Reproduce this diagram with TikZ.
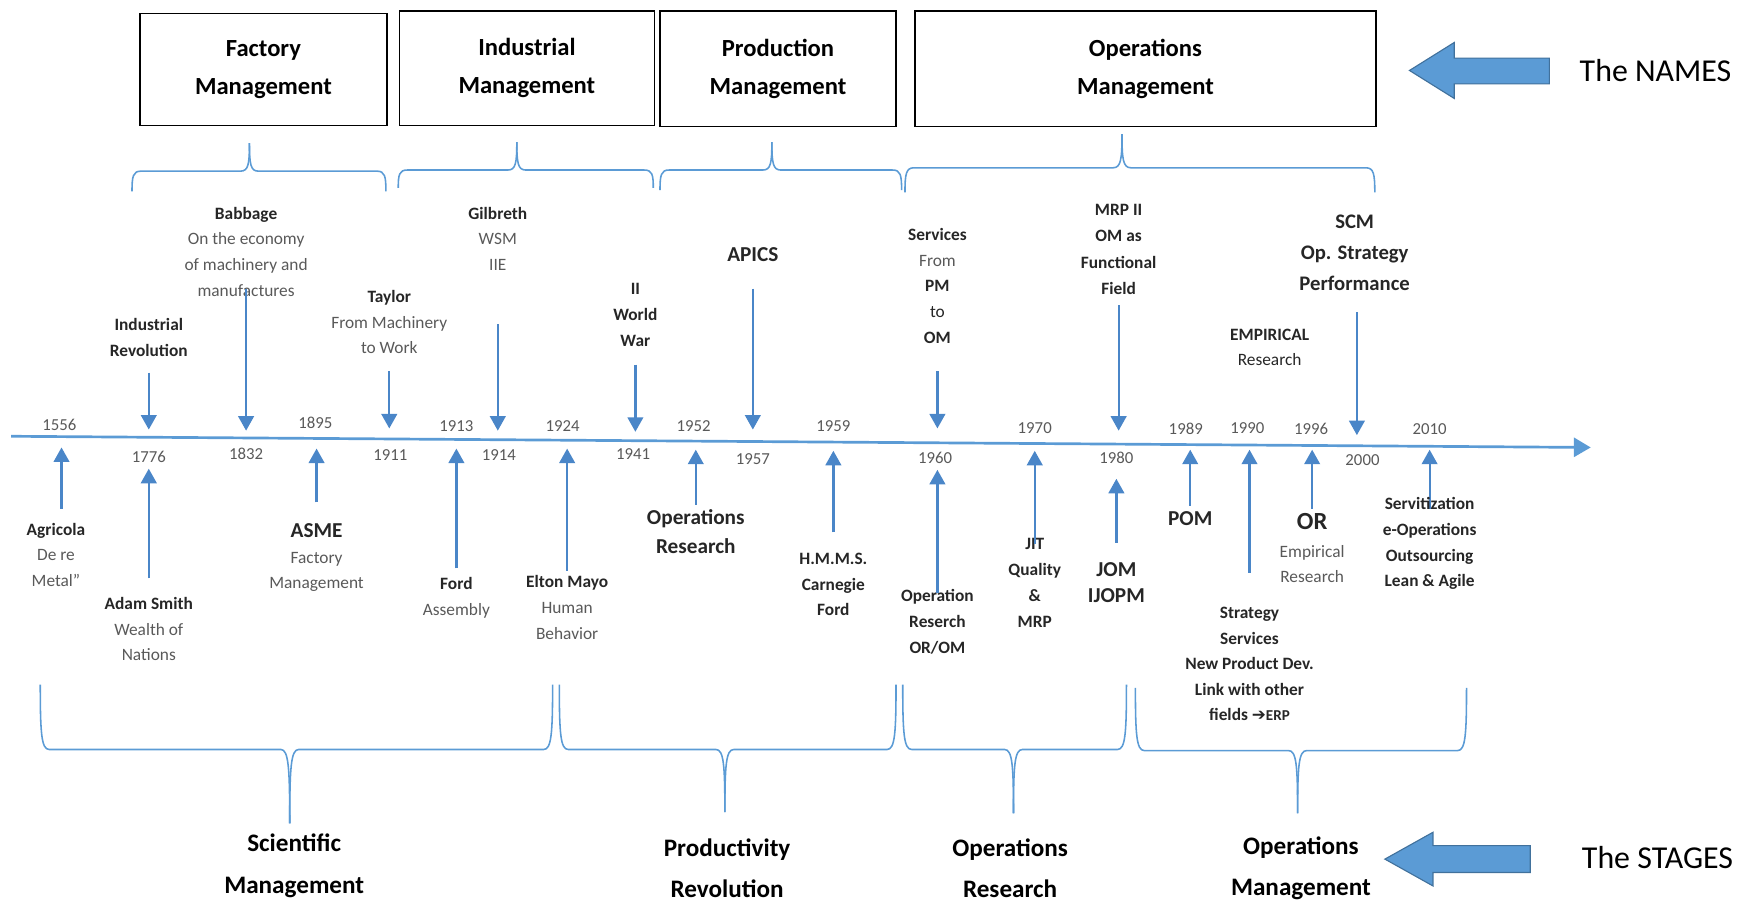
\documentclass[tikz,border=0pt]{standalone}
\usepackage{fontspec}
\setmainfont{Carlito}
\newfontfamily\symfont{DejaVu Sans}
\usetikzlibrary{arrows.meta}

\definecolor{lineblue}{HTML}{5B9BD5}
\definecolor{ptrblue}{HTML}{4A86C8}
\definecolor{edgeblue}{HTML}{41719C}
\definecolor{txtdark}{HTML}{262626}
\definecolor{txtgray}{HTML}{595959}

\newcommand{\soft}[1]{\textcolor{txtgray}{#1}}

% curly brace: x-left, x-tip, x-right, y of bar, y of the two ends, y of the tip
\newcommand{\curly}[6]{%
  \draw[brace] (#1,#5) .. controls (#1,{#4+0.25*(#5-#4)}) and ({#1+1},#4) .. ({#1+8},#4)
     -- ({#2-8},#4) .. controls ({#2-1},#4) and (#2,{#4+0.25*(#6-#4)}) .. (#2,#6);
  \draw[brace] (#2,#6) .. controls (#2,{#4+0.25*(#6-#4)}) and ({#2+1},#4) .. ({#2+8},#4)
     -- ({#3-8},#4) .. controls ({#3-1},#4) and (#3,{#4+0.25*(#5-#4)}) .. (#3,#5);
}

% event pointer: name, x, start y, tip y
\newcommand{\pointer}[4]{%
  \coordinate (#1s) at (#2,#3);
  \coordinate (#1e) at (#2,#4);
  \draw[ptr] (#1s) -- (#1e);
}

\tikzset{
  ptr/.style={draw=ptrblue, line width=2pt, -{Triangle[width=14pt,length=13pt]}},
  axisline/.style={draw=lineblue, line width=2.4pt, -{Triangle[width=17pt,length=15pt]}},
  brace/.style={draw=lineblue, line width=1.4pt},
  blockarrow/.style={fill=lineblue, draw=edgeblue, line width=1pt},
  namebox/.style={draw=black, line width=1.3pt, fill=white, align=center,
    inner sep=0pt, text=black, font=\fontsize{22}{34}\selectfont\bfseries},
  stage/.style={align=center, inner sep=0pt, text=black,
    font=\fontsize{22.5}{37}\selectfont\bfseries},
  side/.style={inner sep=0pt, text=black, font=\fontsize{28.5}{30}\selectfont},
  lbl/.style={align=center, inner sep=0pt, text=txtdark,
    font=\fontsize{15.5}{23}\selectfont},
  bl/.style={lbl, font=\fontsize{15.5}{23}\selectfont\bfseries},
  biglbl/.style={align=center, inner sep=0pt, text=txtdark,
    font=\fontsize{19}{26}\selectfont\bfseries},
  yr/.style={inner sep=0pt, text=txtgray, font=\fontsize{15}{15}\selectfont},
}

\begin{document}
\begin{tikzpicture}[x=1pt,y=-1pt]
\useasboundingbox (0,0) rectangle (1568,811);

% ---------- the names ----------
\node[namebox, minimum width=221pt, minimum height=100pt] (nfactory) at (235.5,62) {Factory\\Management};
\node[namebox, minimum width=228pt, minimum height=102pt] (nindustrial) at (471,61) {Industrial\\Management};
\node[namebox, minimum width=211pt, minimum height=103pt] (nproduction) at (695.5,61.5) {Production\\Management};
\node[namebox, minimum width=412pt, minimum height=103pt] (noperations) at (1024,61.5) {Operations\\Management};

\fill[blockarrow] (1260,63) -- (1300,38) -- (1300,52) -- (1385,52) -- (1385,75)
   -- (1300,75) -- (1300,88) -- cycle;
\node[side, anchor=west] (namestag) at (1412,63) {The NAMES};

\curly{118}{223}{345}{153}{171}{128}
\curly{356}{462}{584}{152}{168}{127}
\curly{590}{690}{806}{152}{170}{127}
\curly{809}{1003}{1229}{150}{172}{120}

% ---------- the time axis ----------
\coordinate (axL) at (10,390);
\coordinate (axR) at (1422,400);
\draw[axisline] (axL) -- (axR);

% years above the axis
\node[yr] (y1556) at (53,380) {1556};
\node[yr] (y1895) at (282,378) {1895};
\node[yr] (y1913) at (408,381) {1913};
\node[yr] (y1924) at (503,381) {1924};
\node[yr] (y1952) at (620,381) {1952};
\node[yr] (y1959) at (745,381) {1959};
\node[yr] (y1970) at (925,383) {1970};
\node[yr] (y1989) at (1060,383) {1989};
\node[yr] (y1990) at (1115,383) {1990};
\node[yr] (y1996) at (1172,383) {1996};
\node[yr] (y2010) at (1278,384) {2010};
% years below the axis
\node[yr] (y1776) at (133,408) {1776};
\node[yr] (y1832) at (220,406) {1832};
\node[yr] (y1911) at (349,407) {1911};
\node[yr] (y1914) at (446,407) {1914};
\node[yr] (y1941) at (566,406) {1941};
\node[yr] (y1957) at (673,410) {1957};
\node[yr] (y1960) at (836,409) {1960};
\node[yr] (y1980) at (998,409) {1980};
\node[yr] (y2000) at (1218,411) {2000};

% ---------- events above the axis ----------
\node[bl] (indrev) at (133,301.5) {Industrial\\Revolution};
\pointer{pindrev}{133}{333}{384}

\node[lbl] (babbage) at (220,225) {\textbf{Babbage}\\\soft{On the economy}\\\soft{of machinery and}\\\soft{manufactures}};
\pointer{pbabbage}{220}{258}{385}

\node[lbl] (taylor) at (348,288) {\textbf{Taylor}\\\soft{From Machinery}\\\soft{to Work}};
\pointer{ptaylor}{348}{332}{383}

\node[lbl] (gilbreth) at (445,213.5) {\textbf{Gilbreth}\\\soft{WSM}\\\soft{IIE}};
\pointer{pgilbreth}{445}{290}{385}

\node[bl] (wwii) at (568,281.5) {II\\World\\War};
\pointer{pwwii}{568}{326}{386}

\node[biglbl] (apics) at (673,228) {APICS};
\pointer{papics}{673}{258}{384}

\node[lbl] (services) at (838,255.5) {\textbf{Services}\\\soft{From}\\\textbf{PM}\\to\\\textbf{OM}};
\pointer{pservices}{838}{332}{383}

\node[bl, font=\fontsize{15.5}{23.5}\selectfont\bfseries] (mrp) at (1000,223) {MRP II\\OM as\\Functional\\Field};
\pointer{pmrp}{1000}{273}{385}

\node[lbl] (empirical) at (1135,310.5) {\textbf{EMPIRICAL}\\Research};

\node[biglbl, font=\fontsize{18.5}{28}\selectfont\bfseries] (scm) at (1211,226) {SCM\\Op. Strategy\\Performance};
\pointer{pscm}{1213}{279}{389}

% ---------- events below the axis ----------
\node[lbl] (agricola) at (50,496) {\textbf{Agricola}\\\soft{De re}\\\soft{Metal''}};
\pointer{pagricola}{55}{455}{400}

\node[lbl] (smith) at (133,562.5) {\textbf{Adam Smith}\\\soft{Wealth of}\\\soft{Nations}};
\pointer{psmith}{133}{517}{419}

\node[lbl] (asme) at (283,498.5) {{\fontsize{19}{23}\selectfont\bfseries ASME}\\\soft{Factory}\\\soft{Management}};
\pointer{pasme}{283}{449}{401}

\node[lbl] (ford) at (408,534.5) {\textbf{Ford}\\\soft{Assembly}};
\pointer{pford}{408}{508}{401}

\node[lbl] (mayo) at (507,543) {\textbf{Elton Mayo}\\\soft{Human}\\\soft{Behavior}};
\pointer{pmayo}{507}{510}{401}

\node[biglbl] (opsres) at (622,475) {Operations\\Research};
\pointer{popsres}{622}{451}{402}

\node[bl] (hmms) at (745,522.5) {H.M.M.S.\\Carnegie\\Ford};
\pointer{phmms}{745}{476}{403}

\node[bl] (opreserch) at (838,556) {Operation\\Reserch\\OR/OM};
\pointer{popreserch}{838}{530}{420}

\node[bl, font=\fontsize{15.5}{23.5}\selectfont\bfseries] (jit) at (925,521) {JIT\\Quality\\\&\\MRP};
\pointer{pjit}{925}{486}{403}

\node[biglbl, font=\fontsize{19}{23}\selectfont\bfseries] (jom) at (998,520.5) {JOM\\IJOPM};
\pointer{pjom}{998}{485}{428}

\node[biglbl] (pom) at (1064,464) {POM};
\pointer{ppom}{1064}{452}{402}

\node[bl, font=\fontsize{15.5}{22.8}\selectfont\bfseries] (strategy) at (1117,593.5)
  {Strategy\\Services\\New Product Dev.\\Link with other\\fields {\symfont\fontsize{15}{20}\selectfont ➔}{\fontsize{13.5}{20}\selectfont ERP}};
\pointer{pstrategy}{1117}{512}{402}

\node[lbl] (orlbl) at (1173,490) {{\fontsize{22}{24}\selectfont\bfseries OR}\\[2pt]\soft{Empirical}\\\soft{Research}};
\pointer{por}{1173}{455}{402}

\pointer{pserv}{1278}{455}{402}
\node[bl] (servit) at (1278,486) {Servitization\\e-Operations\\Outsourcing\\Lean \& Agile};

% ---------- the stages ----------
\curly{36}{259}{494}{670}{612}{736}
\curly{500}{648}{801}{670}{612}{726}
\curly{807}{906}{1007}{670}{612}{727}
\curly{1015}{1160}{1311}{671}{615}{727}

\node[stage] (sscientific) at (263,774) {Scientific\\Management};
\node[stage] (sproductivity) at (650,776) {Productivity\\Revolution};
\node[stage] (soperres) at (903,776) {Operations\\Research};
\node[stage] (sopermgmt) at (1163,776) {Operations\\Management};

\fill[blockarrow] (1238,768) -- (1281,744) -- (1281,756) -- (1368,756) -- (1368,780)
   -- (1281,780) -- (1281,792) -- cycle;
\node[side, anchor=west] (stagestag) at (1414,767) {The  STAGES};

\end{tikzpicture}
\end{document}
